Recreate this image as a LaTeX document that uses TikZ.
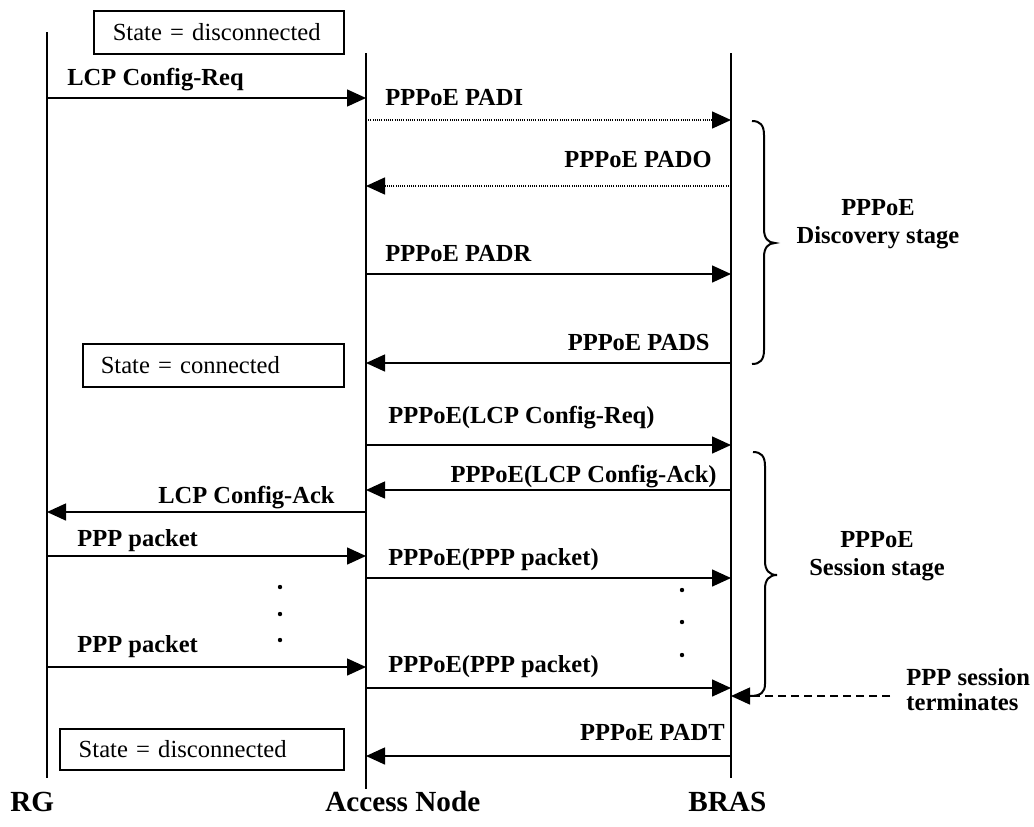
\documentclass[tikz,border=0pt]{standalone}
\usepackage{fontspec}
\setmainfont{Liberation Serif}
\usetikzlibrary{arrows.meta}
\begin{document}
\begin{tikzpicture}[x=0.5pt,y=-0.5pt,
  life/.style={line width=1pt},
  tip/.style={-{Triangle[length=9.5pt,width=8.5pt]}},
  msg/.style={line width=0.75pt,tip},
  dmsg/.style={msg,dash pattern=on 0.5pt off 0.6pt},
  lbl/.style={font=\bfseries\fontsize{12.25}{14}\selectfont,inner sep=0pt},
  big/.style={font=\bfseries\fontsize{14.6}{16}\selectfont,inner sep=0pt,anchor=base west},
  stage/.style={font=\bfseries\fontsize{12.25}{13.8}\selectfont,inner sep=0pt,align=center},
  statebox/.style={draw,line width=0.75pt,anchor=north west,align=left,inner ysep=0pt,
    font=\fontsize{12.3}{14}\selectfont},
  brace/.style={line width=1pt},
  dotmark/.style={fill=black}
]
\useasboundingbox (0,0) rectangle (1034,826);

% lifelines
\coordinate (rgT) at (47,32);   \coordinate (rgB) at (47,778);
\coordinate (anT) at (366,53);  \coordinate (anB) at (366,789);
\coordinate (brT) at (731,53);  \coordinate (brB) at (731,778);
\draw[life] (rgT) -- (rgB);
\draw[life] (anT) -- (anB);
\draw[life] (brT) -- (brB);

% lifeline names
\node[big] (rg) at (10,811) {RG};
\node[big] (an) at (325,811) {Access Node};
\node[big] (br) at (688,811) {BRAS};

% state boxes
\node[statebox,inner xsep=9.5pt,text width=106pt,minimum height=21.5pt] (s1) at (93,10) {State = disconnected};
\node[statebox,inner xsep=9pt,text width=112.5pt,minimum height=21.5pt] (s2) at (82,343) {State = connected};
\node[statebox,inner xsep=9.5pt,text width=123pt,minimum height=20.5pt] (s3) at (59,728) {State = disconnected};

% messages
\draw[msg]  (rgT |- 0,98)  -- (anT |- 0,98);
\node[lbl,anchor=base west] (l1) at (67,85) {LCP Config-Req};

\draw[dmsg] (anT |- 0,120) -- (brT |- 0,120);
\node[lbl,anchor=base west] (l2) at (385,105) {PPPoE PADI};

\draw[dmsg] (brT |- 0,186) -- (anT |- 0,186);
\node[lbl,anchor=base east] (l3) at (712,167) {PPPoE PADO};

\draw[msg]  (anT |- 0,274) -- (brT |- 0,274);
\node[lbl,anchor=base west] (l4) at (385,261) {PPPoE PADR};

\draw[msg]  (brT |- 0,363) -- (anT |- 0,363);
\node[lbl,anchor=base east] (l5) at (710,350) {PPPoE PADS};

\draw[msg]  (anT |- 0,445) -- (brT |- 0,445);
\node[lbl,anchor=base west] (l6) at (388,423) {PPPoE(LCP Config-Req)};

\draw[msg]  (brT |- 0,490) -- (anT |- 0,490);
\node[lbl,anchor=base east] (l7) at (717,482) {PPPoE(LCP Config-Ack)};

\draw[msg]  (anT |- 0,512) -- (rgT |- 0,512);
\node[lbl,anchor=base east] (l8) at (335,503) {LCP Config-Ack};

\draw[msg]  (rgT |- 0,556) -- (anT |- 0,556);
\node[lbl,anchor=base west] (l9) at (77,546) {PPP packet};

\draw[msg]  (anT |- 0,578) -- (brT |- 0,578);
\node[lbl,anchor=base west] (l10) at (388,565) {PPPoE(PPP packet)};

\draw[msg]  (rgT |- 0,667) -- (anT |- 0,667);
\node[lbl,anchor=base west] (l11) at (77,652) {PPP packet};

\draw[msg]  (anT |- 0,688) -- (brT |- 0,688);
\node[lbl,anchor=base west] (l12) at (388,672) {PPPoE(PPP packet)};

\draw[msg]  (brT |- 0,756) -- (anT |- 0,756);
\node[lbl,anchor=base east] (l13) at (725,740) {PPPoE PADT};

% continuation dots
\fill[dotmark] (280,587) circle[radius=1.1pt];
\fill[dotmark] (280,614) circle[radius=1.1pt];
\fill[dotmark] (280,640) circle[radius=1.1pt];
\fill[dotmark] (682,590) circle[radius=1.1pt];
\fill[dotmark] (682,622) circle[radius=1.1pt];
\fill[dotmark] (682,655) circle[radius=1.1pt];

% discovery brace
\draw[brace] (752,121) .. controls (760,121) and (764,125) .. (764,135)
  -- (764,229) .. controls (764,238) and (768,243) .. (775,243)
  .. controls (768,243) and (764,248) .. (764,257)
  -- (764,350) .. controls (764,360) and (760,364) .. (752,364);
\node[stage] (disc) at (878,224) {PPPoE\\Discovery stage};

% session brace
\draw[brace] (753,452) .. controls (761,452) and (765,456) .. (765,466)
  -- (765,561) .. controls (765,570) and (769,575) .. (777,575)
  .. controls (769,575) and (765,580) .. (765,589)
  -- (765,684) .. controls (765,692) and (761,696) .. (750,696);
\node[stage] (sess) at (877,556) {PPPoE\\Session stage};

% termination
\coordinate (term) at (890,696);
\draw[line width=0.75pt,dash pattern=on 4pt off 2.5pt,tip] (term) -- (brT |- 0,696);
\node[font=\bfseries\fontsize{12.3}{12.5}\selectfont,inner sep=0pt,align=left,anchor=west] (termlbl) at (906,690) {PPP session\\terminates};
\end{tikzpicture}
\end{document}
